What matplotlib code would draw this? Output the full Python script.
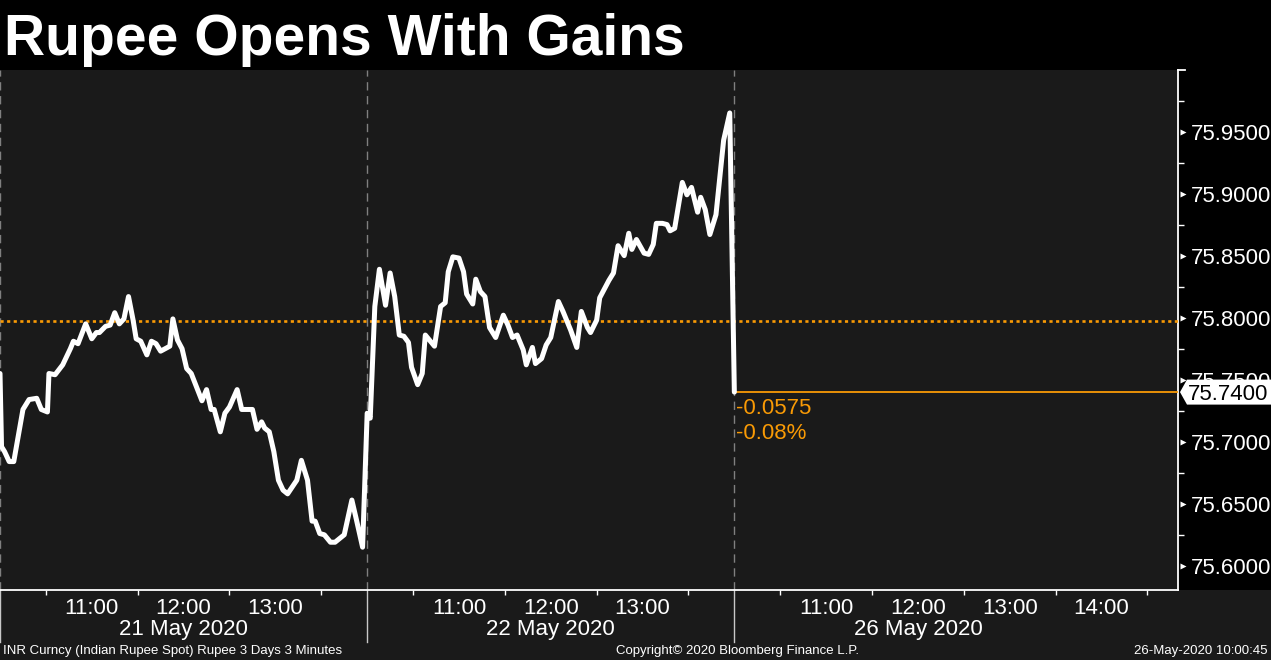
import matplotlib
matplotlib.use("Agg")
import matplotlib.pyplot as plt
import matplotlib.transforms as mtransforms
from matplotlib.patches import Rectangle, Polygon
import numpy as np

# minutes after 10:00 for each session, and INR spot values (3 minute bars)
day1_min = [0, 1, 3, 6, 9, 12, 15, 19, 24, 27, 31, 32, 36, 41, 46, 48, 51, 56, 60, 63,
            65, 69, 72, 75, 78, 81, 84, 87, 89, 92, 96, 99, 102, 105, 111, 113, 116, 119,
            122, 125, 132, 135, 138, 140, 144, 147, 150, 155, 158, 165, 168, 171, 173, 176,
            179, 182, 185, 188, 194, 197, 201, 204, 206, 209, 212, 216, 219, 225, 230, 233, 237]
day1_val = [75.755, 75.696, 75.692, 75.684, 75.684, 75.705, 75.726, 75.734, 75.735, 75.726,
            75.724, 75.755, 75.754, 75.762, 75.775, 75.781, 75.779, 75.795, 75.783, 75.788,
            75.788, 75.793, 75.794, 75.804, 75.795, 75.799, 75.817, 75.798, 75.783, 75.781,
            75.770, 75.781, 75.779, 75.773, 75.777, 75.799, 75.782, 75.775, 75.759, 75.755,
            75.733, 75.742, 75.726, 75.726, 75.708, 75.723, 75.728, 75.742, 75.726, 75.726,
            75.710, 75.716, 75.711, 75.708, 75.692, 75.669, 75.661, 75.658, 75.669, 75.685,
            75.669, 75.636, 75.636, 75.626, 75.625, 75.619, 75.619, 75.625, 75.653, 75.637, 75.615]

day2_min = [0, 2, 5, 8, 12, 15, 18, 21, 24, 27, 29, 33, 36, 38, 44, 48, 51, 53, 56, 60,
            63, 65, 69, 71, 74, 77, 80, 84, 89, 92, 95, 98, 102, 104, 108, 110, 114, 117,
            120, 125, 128, 133, 137, 140, 144, 146, 150, 152, 158, 161, 164, 168, 171, 173,
            176, 181, 184, 187, 189, 193, 196, 198, 201, 206, 209, 212, 216, 218, 221, 224,
            228, 233, 237]
day2_val = [75.723, 75.719, 75.809, 75.839, 75.810, 75.836, 75.817, 75.786, 75.785, 75.780,
            75.760, 75.746, 75.755, 75.786, 75.777, 75.809, 75.812, 75.837, 75.849, 75.848,
            75.837, 75.819, 75.811, 75.831, 75.821, 75.817, 75.792, 75.784, 75.802, 75.794,
            75.784, 75.786, 75.774, 75.762, 75.776, 75.763, 75.767, 75.778, 75.784, 75.813,
            75.805, 75.790, 75.776, 75.805, 75.792, 75.788, 75.798, 75.816, 75.830, 75.836,
            75.858, 75.850, 75.868, 75.855, 75.863, 75.852, 75.851, 75.859, 75.876, 75.876,
            75.875, 75.870, 75.872, 75.909, 75.899, 75.905, 75.885, 75.897, 75.887, 75.867,
            75.883, 75.943, 75.965]

day3_min = [0]
day3_val = [75.7400]

days = ["21 May 2020", "22 May 2020", "26 May 2020"]
session_len = 240          # minutes shown per full day
last_day_len = 290         # 26 May: 10:00 - 14:50
prev_close = 75.7975
last_price = 75.7400
change = -0.0575
change_pct = -0.08

hour_labels = ["11:00", "12:00", "13:00"]
hour_labels_last = ["11:00", "12:00", "13:00", "14:00"]

ORANGE = "#f99a05"
BG = "#1a1a1a"

# build continuous x axis (minutes)
x = np.concatenate([np.array(day1_min), np.array(day2_min) + session_len,
                    np.array(day3_min) + 2 * session_len])
y = np.concatenate([day1_val, day2_val, day3_val])
x_end = 2 * session_len + last_day_len
y_lo, y_hi = 75.5805, 75.9996

plt.rcParams["font.family"] = ["Liberation Sans", "DejaVu Sans"]

W, H = 1271, 660
fig = plt.figure(figsize=(W / 100, H / 100), dpi=100, facecolor=BG)
# black title band and black y-label panel (behind the axes)
fig.patches.append(Rectangle((0, (H - 70) / H), 1, 70 / H, transform=fig.transFigure,
                             facecolor="black", edgecolor="none", zorder=-5))
fig.patches.append(Rectangle((1178 / W, (H - 590) / H), (W - 1178) / W, 520 / H,
                             transform=fig.transFigure, facecolor="black",
                             edgecolor="none", zorder=-5))

ax = fig.add_axes([0, (H - 590) / H, 1178 / W, 520 / H])
ax.set_facecolor(BG)

ax.plot(x, y, color="white", lw=3.6, solid_joinstyle="round", solid_capstyle="round", zorder=5)

# previous close (dotted) and last price level
ax.axhline(prev_close, color=ORANGE, lw=1.9, dashes=(1.2, 1.3), zorder=3)
ax.plot([2 * session_len, x_end], [last_price, last_price], color=ORANGE, lw=1.3, zorder=4,
        solid_capstyle="butt")

# day separators
for k in range(3):
    ax.axvline(k * session_len, color="#808080", lw=1.0, dashes=(6, 4), zorder=2)

# spines
for s in ["top", "left"]:
    ax.spines[s].set_visible(False)
ax.spines["bottom"].set_color("white")
ax.spines["bottom"].set_linewidth(1.3)
ax.spines["right"].set_color("white")
ax.spines["right"].set_linewidth(1.3)

# x ticks: half-hour marks, hour labels
half_hours = []
hours = []
hour_text = []
for k in range(3):
    base = k * session_len
    span = session_len if k < 2 else last_day_len
    half_hours += [base + m for m in range(30, span, 60)]
    labs = hour_labels if k < 2 else hour_labels_last
    hours += [base + 60 * (i + 1) for i in range(len(labs))]
    hour_text += labs
ax.set_xticks(half_hours)
ax.set_xticklabels([])
ax.set_xticks(hours, minor=True)
ax.set_xticklabels(hour_text, minor=True)
ax.tick_params(axis="x", which="major", length=3.5, width=1, color="white", direction="out")
ax.tick_params(axis="x", which="minor", length=0, pad=6, labelsize=16, labelcolor="white")

# y ticks on the right
yt = np.round(np.arange(75.60, 75.951, 0.05), 4)
ax.yaxis.tick_right()
ax.set_yticks(yt)
ax.set_yticklabels([f"{v:.4f}" for v in yt])
ax.set_yticks(np.round(np.arange(75.625, 76.0, 0.05), 4), minor=True)
ax.tick_params(axis="y", which="major", length=0, pad=9, labelsize=16, labelcolor="white")
ax.tick_params(axis="y", which="minor", length=4, width=1, color="white", direction="out")

# limits after the ticks so they are not widened
ax.set_xlim(0, x_end)
ax.set_ylim(y_lo, y_hi)

ytrans = mtransforms.blended_transform_factory(ax.transAxes, ax.transData)
ax.plot(np.full(len(yt), 1.0045), yt, ">", color="white", ms=4.5, mec="none",
        transform=ytrans, clip_on=False, zorder=6)
# top end tick
ax.plot([1.0, 1.006], [y_hi, y_hi], color="white", lw=1.3, transform=ytrans, clip_on=False)

# last price pennant, built in pixel space around the price level
x_ax, y_px = ax.transData.transform((x_end, last_price))
pennant = Polygon([(x_ax + 2, y_px), (x_ax + 9, y_px + 12.5), (W, y_px + 12.5),
                   (W, y_px - 12.5), (x_ax + 9, y_px - 12.5)], closed=True,
                  transform=mtransforms.IdentityTransform(), facecolor="white",
                  edgecolor="none", zorder=20)
fig.patches.append(pennant)
fig.text((x_ax + 10) / W, y_px / H, f"{last_price:.4f}", color="black", fontsize=16,
         ha="left", va="center_baseline", zorder=21)

# change labels
ax.text(2 * session_len + 1, last_price - 0.013, f"{change:.4f}", color=ORANGE, fontsize=16,
        va="center", ha="left", zorder=6)
ax.text(2 * session_len + 1, last_price - 0.033, f"{change_pct:.2f}%", color=ORANGE,
        fontsize=16, va="center", ha="left", zorder=6)

# day labels and solid separators in the axis band
xtrans_fig = mtransforms.blended_transform_factory(ax.transData, fig.transFigure)
for k, d in enumerate(days):
    ax.text(k * session_len + 120, (H - 629) / H, d, transform=xtrans_fig, color="white",
            fontsize=16, ha="center", va="center")
    ax.plot([k * session_len, k * session_len], [(H - 590) / H, (H - 642) / H],
            transform=xtrans_fig, color="#c8c8c8", lw=1.0, clip_on=False)

# title and footer
fig.text(4 / W, 1 - 40 / H, "Rupee Opens With Gains", color="white", fontsize=41,
         fontweight="bold", ha="left", va="center")
fig.text(3 / W, 1 - 651 / H, "INR Curncy (Indian Rupee Spot) Rupee 3 Days 3 Minutes",
         color="white", fontsize=9.5, ha="left", va="center")
fig.text(737 / W, 1 - 651 / H, "Copyright\u00a9 2020 Bloomberg Finance L.P.",
         color="white", fontsize=9.5, ha="center", va="center")
fig.text(1268 / W, 1 - 651 / H, "26-May-2020 10:00:45", color="white", fontsize=9.5,
         ha="right", va="center")

fig.savefig("out.png", dpi=100, facecolor=fig.get_facecolor())
